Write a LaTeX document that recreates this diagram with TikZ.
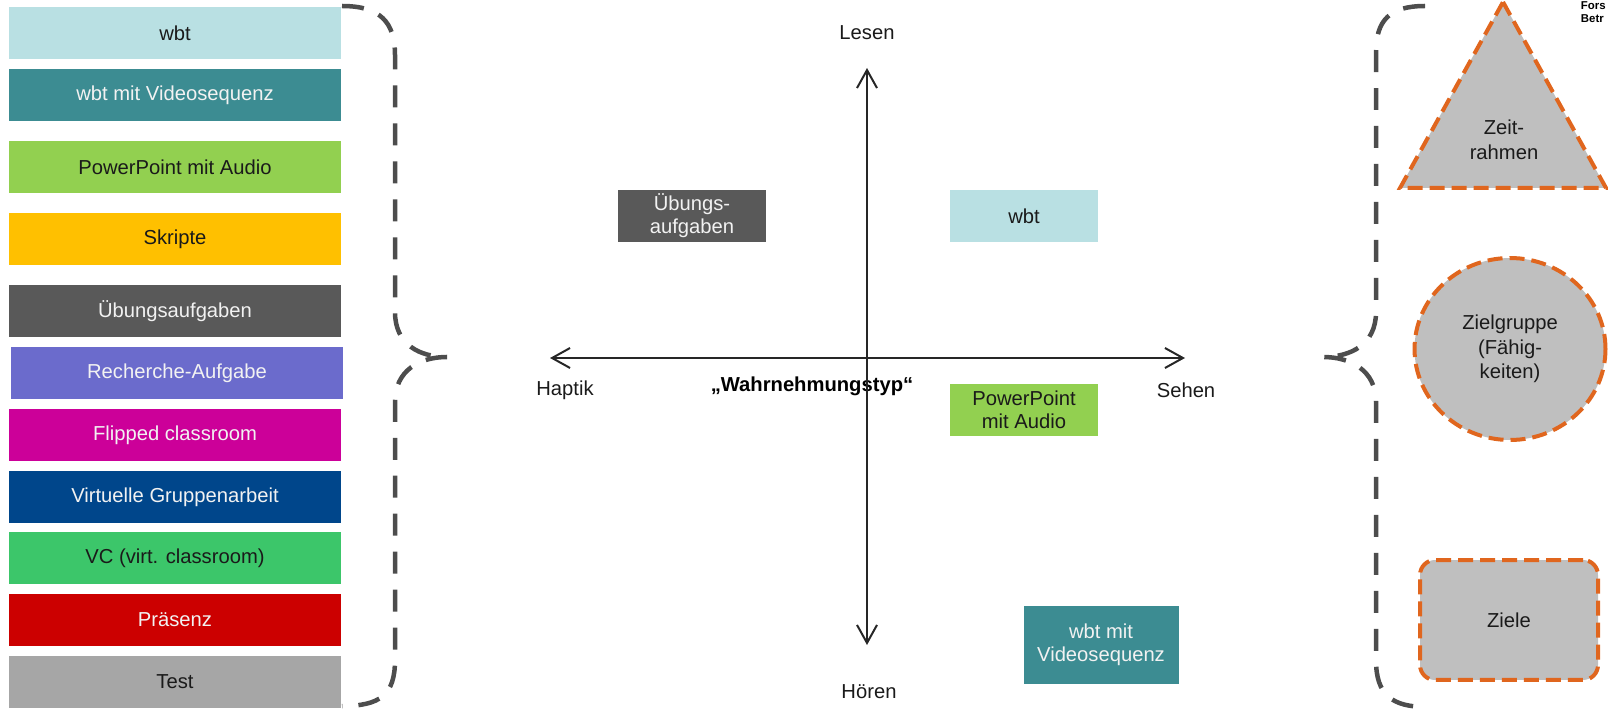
\documentclass[tikz,border=0pt]{standalone}
\usepackage{fontspec}
\setmainfont{Liberation Sans}
\usepackage{xcolor}
\usetikzlibrary{shapes.geometric,arrows.meta,positioning}

\definecolor{wbtlight}{HTML}{B9E0E3}
\definecolor{wbtteal}{HTML}{3C8C92}
\definecolor{pptgreen}{HTML}{92D050}
\definecolor{skriptgold}{HTML}{FFC000}
\definecolor{uebgray}{HTML}{595959}
\definecolor{recherchecol}{HTML}{6B6BCC}
\definecolor{flippedcol}{HTML}{CC0099}
\definecolor{gruppecol}{HTML}{00468B}
\definecolor{vcgreen}{HTML}{3CC66A}
\definecolor{praesenzcol}{HTML}{CC0000}
\definecolor{testgray}{HTML}{A6A6A6}
\definecolor{shapegray}{HTML}{BFBFBF}
\definecolor{orangeline}{HTML}{E0661E}
\definecolor{bracegray}{HTML}{4D4D4D}
\definecolor{axisgray}{HTML}{262626}
\definecolor{inktext}{HTML}{1A1A1A}

\begin{document}
\begin{tikzpicture}[x=0.02cm,y=-0.02cm,
    lbl/.style={inner sep=0pt,align=center,text=inktext,font=\fontsize{11.5}{13}\selectfont},
    listbox/.style={lbl,minimum width=6.64cm,minimum height=1.04cm},
    midbox/.style={lbl,minimum width=2.96cm,minimum height=1.04cm},
    light/.style={text=white!95!black},
    brace/.style={draw=bracegray,line width=0.09cm,dash pattern=on 0.44cm off 0.32cm},
    frame/.style={fill=shapegray,draw=orangeline,line width=0.08cm,dash pattern=on 0.3cm off 0.14cm},
    axis/.style={draw=axisgray,line width=0.04cm,
        {Straight Barb[length=0.36cm,width=0.4cm]}-{Straight Barb[length=0.36cm,width=0.4cm]}}]
    \useasboundingbox (0,0) rectangle (1608,709);

    % Left list
    \node[listbox,fill=wbtlight] (wbt) at (175,33) {wbt};
    \node[listbox,fill=wbtteal,light] (wbtvideo) at (175,95) {wbt mit Videosequenz};
    \node[listbox,fill=pptgreen] (ppt) at (175,167) {PowerPoint mit Audio};
    \node[listbox,fill=skriptgold] (skripte) at (175,239) {Skripte};
    \node[listbox,fill=uebgray,light] (uebung) at (175,311) {Übungsaufgaben};
    \node[listbox,fill=recherchecol,light] (recherche) at (177,373) {Recherche-Aufgabe};
    \node[listbox,fill=flippedcol,light] (flipped) at (175,435) {Flipped classroom};
    \node[listbox,fill=gruppecol,light] (gruppe) at (175,497) {Virtuelle Gruppenarbeit};
    \node[listbox,fill=vcgreen] (vc) at (175,558) {VC (virt. classroom)};
    \node[listbox,fill=praesenzcol,light] (praesenz) at (175,620) {Präsenz};
    \node[listbox,fill=testgray] (test) at (175,682) {Test};

    % Left brace
    \draw[brace] (342,6) .. controls (380,6) and (395,22) .. (395,55) -- (395,312)
        .. controls (395,345) and (420,357) .. (447,357)
        .. controls (420,357) and (395,370) .. (395,402) -- (395,660)
        .. controls (395,695) and (380,706) .. (342,706);

    % Axes
    \coordinate (lesenend) at (867,68);
    \coordinate (hoerenend) at (867,645);
    \coordinate (haptikend) at (550,358);
    \coordinate (sehenend) at (1185,358);
    \node[lbl,font=\fontsize{11.5}{13}\selectfont\bfseries,text=black] (typ) at (812,386) {„Wahrnehmungstyp“};
    \draw[axis] (hoerenend) -- (lesenend);
    \draw[axis] (haptikend) -- (sehenend);
    \node[lbl] (lesen) at (867,33) {Lesen};
    \node[lbl] (hoeren) at (869,692) {Hören};
    \node[lbl] (haptik) at (565,390) {Haptik};
    \node[lbl] (sehen) at (1186,390) {Sehen};

    % Placed media
    \node[midbox,fill=uebgray,light] (muebung) at (692,216) {Übungs-\\aufgaben};
    \node[midbox,fill=wbtlight] (mwbt) at (1024,216) {wbt};
    \node[midbox,fill=pptgreen] (mppt) at (1024,410) {PowerPoint\\mit Audio};
    \node[midbox,fill=wbtteal,light,minimum width=3.1cm,minimum height=1.56cm] (mvideo) at (1101,645) {wbt mit\\Videosequenz};

    % Right brace
    \draw[brace] (1425,6) .. controls (1390,6) and (1376,20) .. (1376,52) -- (1376,312)
        .. controls (1376,345) and (1350,357) .. (1323,357)
        .. controls (1350,357) and (1376,370) .. (1376,402) -- (1376,660)
        .. controls (1376,695) and (1392,707) .. (1427,707);

    % Frame conditions
    \draw[frame] (1503,2) -- (1606,188) -- (1400,188) -- cycle;
    \node[lbl,font=\fontsize{11.5}{14}\selectfont] (zeit) at (1504,140) {Zeit-\\rahmen};
    \node[frame,ellipse,lbl,minimum width=3.82cm,minimum height=3.64cm,font=\fontsize{11.5}{14}\selectfont] (zielgruppe) at (1510,349) {Zielgruppe\\(Fähig-\\keiten)};
    \node[frame,lbl,rounded corners=0.3cm,minimum width=3.56cm,minimum height=2.4cm] (ziele) at (1509,620) {Ziele};

    \node[anchor=north east,inner sep=0pt,align=left,font=\fontsize{6.5}{7.5}\selectfont\bfseries] (fors) at (1606,1) {Fors\\Betr};
\end{tikzpicture}
\end{document}
